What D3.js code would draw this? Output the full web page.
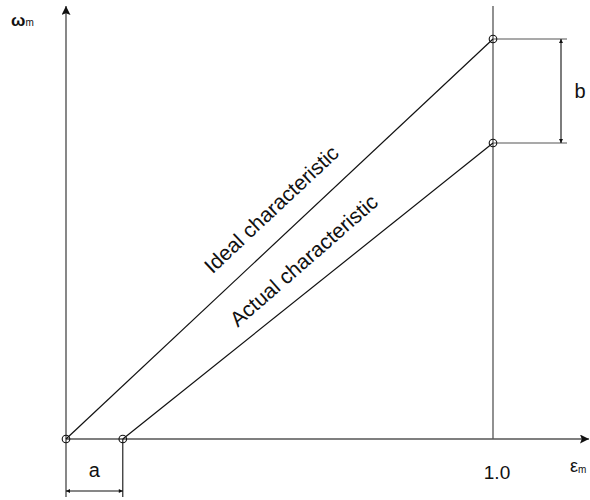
<!DOCTYPE html>
<html>
<head>
<meta charset="utf-8">
<script src="https://cdn.jsdelivr.net/npm/d3@7"></script>
<style>
  html, body { margin: 0; padding: 0; background: #fff; }
  svg text { font-family: "Liberation Sans", Arial, sans-serif; fill: #111; }
</style>
</head>
<body>
<svg id="chart" width="590" height="500"></svg>
<script>
// Normalised speed ω_m against normalised input ε_m
const idealEps = [0, 1.0];
const idealOmega = [0, 1.0];
const actualEps = [0.133, 1.0];
const actualOmega = [0, 0.74];
const xTickValues = [1.0];
const xTickLabels = ["1.0"];
const seriesLabels = ["Ideal characteristic", "Actual characteristic"];
const axisLabels = ["ε", "ω"];

const svg = d3.select("#chart");

const x = d3.scaleLinear().domain([0, 1.0]).range([66, 493]);
const y = d3.scaleLinear().domain([0, 1.0]).range([439, 39]);

const axisColor = "#555";

// arrowheads
const defs = svg.append("defs");
defs.append("marker").attr("id", "axisArrow")
  .attr("viewBox", "0 0 10 10").attr("refX", 10).attr("refY", 5)
  .attr("markerUnits", "userSpaceOnUse")
  .attr("markerWidth", 20).attr("markerHeight", 9).attr("orient", "auto")
  .append("path").attr("d", "M0,0 L10,5 L0,10 L2,5 Z").attr("fill", "#111");
defs.append("marker").attr("id", "dimArrow")
  .attr("viewBox", "0 0 10 10").attr("refX", 10).attr("refY", 5)
  .attr("markerUnits", "userSpaceOnUse")
  .attr("markerWidth", 10).attr("markerHeight", 4).attr("orient", "auto-start-reverse")
  .append("path").attr("d", "M0,0 L10,5 L0,10 Z").attr("fill", "#111");

// axes
const xMax = x.invert(589), yMax = y.invert(6);
svg.append("line")
  .attr("x1", x(0)).attr("y1", y(0)).attr("x2", x(xMax)).attr("y2", y(0))
  .attr("stroke", axisColor).attr("stroke-width", 1.4)
  .attr("marker-end", "url(#axisArrow)");
svg.append("line")
  .attr("x1", x(0)).attr("y1", 497).attr("x2", x(0)).attr("y2", y(yMax))
  .attr("stroke", axisColor).attr("stroke-width", 1.4)
  .attr("marker-end", "url(#axisArrow)");

// vertical reference at ε = 1.0
svg.selectAll(".ref").data(xTickValues).join("line")
  .attr("x1", d => x(d)).attr("x2", d => x(d))
  .attr("y1", y(0)).attr("y2", 6)
  .attr("stroke", axisColor).attr("stroke-width", 1.3);

svg.selectAll(".tick").data(xTickValues).join("text")
  .attr("x", d => x(d) + 4).attr("y", 479)
  .attr("text-anchor", "middle").attr("font-size", 19)
  .text((d, i) => xTickLabels[i]);

// axis labels
const eLab = svg.append("text").attr("x", 570).attr("y", 472).attr("font-size", 18);
eLab.append("tspan").text(axisLabels[0]);
eLab.append("tspan").attr("font-size", 10).attr("dy", 1).text("m");
const wLab = svg.append("text").attr("x", 11).attr("y", 26).attr("font-size", 17).attr("font-weight", "bold");
wLab.append("tspan").text(axisLabels[1]);
wLab.append("tspan").attr("font-size", 10).attr("font-weight", "normal").attr("dy", 0).text("m");

// characteristic lines
const line = d3.line().x(d => x(d[0])).y(d => y(d[1]));
const ideal = d3.zip(idealEps, idealOmega);
const actual = d3.zip(actualEps, actualOmega);
[ideal, actual].forEach(pts => {
  svg.append("path").attr("d", line(pts))
    .attr("fill", "none").attr("stroke", "#111").attr("stroke-width", 1.2);
});

// dimension "b": extension lines and arrow
const bTop = y(idealOmega[1]), bBot = y(actualOmega[1]);
[bTop, bBot].forEach(v => {
  svg.append("line").attr("x1", x(1.0)).attr("x2", 567).attr("y1", v).attr("y2", v)
    .attr("stroke", axisColor).attr("stroke-width", 1.2);
});
svg.append("line").attr("x1", 561).attr("x2", 561).attr("y1", bTop).attr("y2", bBot)
  .attr("stroke", "#111").attr("stroke-width", 1.1)
  .attr("marker-start", "url(#dimArrow)").attr("marker-end", "url(#dimArrow)");
svg.append("text").attr("x", 580).attr("y", (bTop + bBot) / 2 + 7)
  .attr("text-anchor", "middle").attr("font-size", 20).text("b");

// dimension "a"
svg.append("line").attr("x1", x(actualEps[0])).attr("x2", x(actualEps[0]))
  .attr("y1", y(0)).attr("y2", 497).attr("stroke", "#111").attr("stroke-width", 1.1);
svg.append("line").attr("x1", x(0)).attr("x2", x(actualEps[0])).attr("y1", 491).attr("y2", 491)
  .attr("stroke", "#111").attr("stroke-width", 1.1)
  .attr("marker-start", "url(#dimArrow)").attr("marker-end", "url(#dimArrow)");
svg.append("text").attr("x", (x(0) + x(actualEps[0])) / 2).attr("y", 477)
  .attr("text-anchor", "middle").attr("font-size", 20).text("a");

// end-point circles
const pts = [ideal[0], ideal[1], actual[0], actual[1]];
svg.selectAll(".pt").data(pts).join("circle")
  .attr("cx", d => x(d[0])).attr("cy", d => y(d[1])).attr("r", 3.8)
  .attr("fill", "none").attr("stroke", "#111").attr("stroke-width", 1.1);

// rotated series labels
function labelAlong(pts, t, off, extraDeg, text) {
  const x0 = x(pts[0][0]), y0 = y(pts[0][1]), x1 = x(pts[1][0]), y1 = y(pts[1][1]);
  const ang = Math.atan2(y1 - y0, x1 - x0);
  const px = x0 + (x1 - x0) * t, py = y0 + (y1 - y0) * t;
  const nx = Math.sin(ang), ny = -Math.cos(ang);
  svg.append("text")
    .attr("transform", `translate(${px + nx * off},${py + ny * off}) rotate(${ang * 180 / Math.PI - extraDeg})`)
    .attr("font-size", 21).text(text);
}
labelAlong(ideal, 0.375, 20, 0, seriesLabels[0]);
labelAlong(actual, 0.336, 15, 2.5, seriesLabels[1]);
</script>
</body>
</html>
